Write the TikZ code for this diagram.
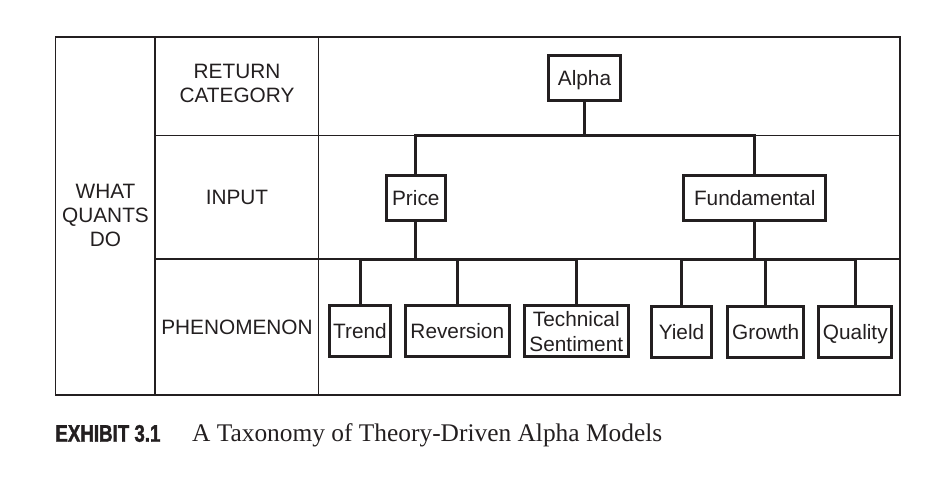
\documentclass[tikz,border=0pt]{standalone}
\usepackage{fontspec}
\setmainfont{Liberation Sans}
\newfontfamily\captionserif{Liberation Serif}
\newfontfamily\exhibitfont[FakeStretch=0.78,FakeBold=1.5]{Liberation Sans}
\usepackage{xcolor}
\usetikzlibrary{positioning,calc}

\definecolor{ink}{HTML}{231F20}

\tikzset{
  gridline/.style={draw=ink, line width=0.9pt},
  rowlabel/.style={align=center, text=ink, inner sep=0pt, font=\fontsize{10.4}{12}\selectfont},
  catbox/.style={draw=ink, line width=1.5pt, text=ink, align=center, inner sep=0pt,
    minimum height=22.6pt, font=\fontsize{10.4}{12.5}\selectfont},
  leafbox/.style={catbox, minimum height=25.5pt},
  oneline/.style={text height=7.6pt, text depth=0pt},
  branch/.style={draw=ink, line width=1.5pt}
}

\begin{document}
\begin{tikzpicture}[x=0.5pt, y=-0.5pt]
        \useasboundingbox (0,0) rectangle (948,478);
        % Tabela de fundo
        \def\colA{155}
        \def\colB{318.5}
        \coordinate (inbus) at (0,135.5);
        \coordinate (phbus) at (0,259);
        \draw[gridline] (55.5,37) rectangle (900,395);
        \draw[gridline] (\colA,37) -- (\colA,395);
        \draw[gridline] (\colB,37) -- (\colB,395);
        \draw[gridline] (\colA,135.5) -- (900,135.5);
        \draw[gridline] (\colA,259) -- (900,259);
        % Rótulos das linhas
        \node[rowlabel] (quants) at (105.5,215.5) {WHAT\\QUANTS\\DO};
        \node[rowlabel] (retcat) at (237,83.5) {RETURN\\CATEGORY};
        \node[rowlabel] (input) at (237,197) {INPUT};
        \node[rowlabel] (phen) at (237,327.3) {PHENOMENON};
        % Árvore
        \node[catbox, oneline, minimum width=35.7pt] (alpha) at (584.5,78.2) {Alpha};
        \node[catbox, oneline, minimum width=29.3pt] (price) at (415.8,198.3) {Price};
        \node[catbox, oneline, minimum width=71.2pt] (fund) at (754.7,198.3) {Fundamental};
        \node[leafbox, oneline, minimum width=30.3pt] (trend) at (360,331.3) {Trend};
        \node[leafbox, oneline, minimum width=51.8pt] (revers) at (457.3,331.3) {Reversion};
        \node[leafbox, minimum width=52.2pt] (techsent) at (576.3,331.3) {Technical\\Sentiment};
        \node[leafbox, oneline, minimum width=30pt] (yield) at (681.5,331.6) {Yield};
        \node[leafbox, oneline, minimum width=38.2pt] (growth) at (765.7,331.6) {Growth};
        \node[leafbox, oneline, minimum width=36.5pt] (quality) at (855.3,331.6) {Quality};
        \draw[branch] (alpha.south) -- (alpha.south |- inbus);
        \draw[branch] (price.north) |- (fund.north |- inbus) -- (fund.north);
        \draw[branch] (price.south) -- (price.south |- phbus);
        \draw[branch] (trend.north) |- (techsent.north |- phbus) -- (techsent.north);
        \draw[branch] (revers.north) -- (revers.north |- phbus);
        \draw[branch] (fund.south) -- (fund.south |- phbus);
        \draw[branch] (yield.north) |- (quality.north |- phbus) -- (quality.north);
        \draw[branch] (growth.north) -- (growth.north |- phbus);
        % Legenda
        \node[anchor=base west, inner sep=0pt, text=ink, font=\exhibitfont\bfseries\fontsize{12}{14}\selectfont] (exhibit) at (55,441.7) {EXHIBIT 3.1};
        \node[anchor=base west, inner sep=0pt, text=ink, font=\captionserif\fontsize{12.7}{15}\selectfont] (title) at (191.7,441.7) {A Taxonomy of Theory-Driven Alpha Models};
    \end{tikzpicture}
\end{document}
